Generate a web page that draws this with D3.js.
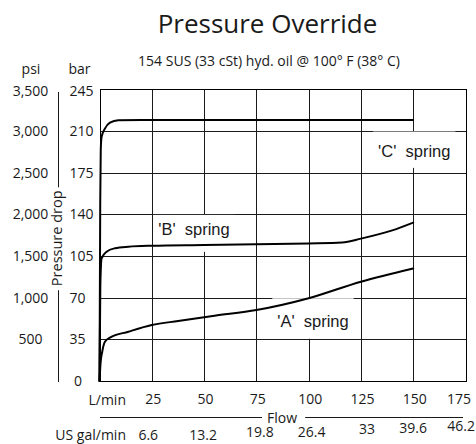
<!DOCTYPE html>
<html>
<head>
<meta charset="utf-8">
<script src="https://cdn.jsdelivr.net/npm/d3@7/dist/d3.min.js"></script>
<style>
  html, body { margin: 0; padding: 0; background: #fff; }
  svg { display: block; }
  text { fill: #1a1a1a; }
</style>
</head>
<body>
<svg id="chart" width="476" height="444"></svg>
<script>
// Pressure override curves: flow (L/min) vs pressure (bar)
const springA = [[0,0],[0.5,15],[1.3,24.6],[2.6,33],[5,36.4],[13.8,41.4],[25,47],[37.6,50.4],[55,54.8],[75,59.6],[100,69.5],[125,83.4],[150,94.5]];
const springB = [[0,0],[0.4,80],[1,103],[3.4,108.6],[7.4,111.5],[13.8,112.8],[25,113.6],[50,114.2],[75,114.8],[100,115.5],[116,116.3],[125,119.6],[140,126.5],[150,133]];
const springC = [[0,0],[0.35,150],[0.6,194],[1,205],[2.6,212],[5,217],[9,219],[20,219.3],[150,219.3]];

const barTicks = [0, 35, 70, 105, 140, 175, 210, 245];
const psiTicks = [500, 1000, 1500, 2000, 2500, 3000, 3500];
const flowTicks = [25, 50, 75, 100, 125, 150, 175];
const gallonLabels = ["6.6", "13.2", "19.8", "26.4", "33", "39.6", "46.2"];
const springNames = ["'A'  spring", "'B'  spring", "'C'  spring"];

const W = 476, H = 444;
const FONT = "'Open Sans', 'Noto Sans', sans-serif";
const LABEL_FONT = "'Liberation Sans', Arial, sans-serif";

const svg = d3.select("#chart");

const x = d3.scaleLinear().domain([0, 175]).range([99.5, 465.5]);
const y = d3.scaleLinear().domain([0, 245]).range([381, 89.3]);
const yPsi = d3.scaleLinear().domain([0, 3500]).range([381, 89.3]);
const crisp = v => Math.round(v) + 0.5;

// title and test conditions
svg.append("text").attr("x", 267.5).attr("y", 33).attr("text-anchor", "middle")
  .style("font-family", FONT).style("font-size", "26px").text("Pressure Override");
svg.append("text").attr("x", 269).attr("y", 66).attr("text-anchor", "middle")
  .style("font-family", FONT).style("font-size", "14px")
  .text("154 SUS (33 cSt) hyd. oil @ 100\u00B0 F (38\u00B0 C)");

// unit headers
svg.append("text").attr("x", 31).attr("y", 74).attr("text-anchor", "middle")
  .style("font-family", FONT).style("font-size", "14px").text("psi");
svg.append("text").attr("x", 68.5).attr("y", 74)
  .style("font-family", FONT).style("font-size", "14px").text("bar");

// grid
const grid = svg.append("g").attr("stroke", "#1a1a1a").attr("stroke-width", 1).attr("fill", "none");
grid.selectAll("line.h").data(barTicks.filter(d => d > 0 && d < 245)).join("line")
  .attr("class", "h")
  .attr("x1", crisp(x(0))).attr("x2", crisp(x(175)))
  .attr("y1", d => crisp(y(d))).attr("y2", d => crisp(y(d)));
grid.selectAll("line.v").data(flowTicks.filter(d => d < 175)).join("line")
  .attr("class", "v")
  .attr("x1", d => crisp(x(d))).attr("x2", d => crisp(x(d)))
  .attr("y1", crisp(y(245))).attr("y2", crisp(y(0)));
grid.append("rect")
  .attr("x", crisp(x(0))).attr("y", crisp(y(245)))
  .attr("width", crisp(x(175)) - crisp(x(0)))
  .attr("height", crisp(y(0)) - crisp(y(245)))
  .attr("stroke", "#000");

// curve labels sit on white patches that interrupt the grid
const labelSpots = [
  { flow: 85, bar: 45.6, top: 69.5, bottom: 35.5 },
  { flow: 28.1, bar: 122.6, top: 139.5, bottom: 108.5 },
  { flow: 133.2, bar: 187.9, top: 209.5, bottom: 179 }
];
const labelG = svg.append("g");
labelSpots.forEach((s, i) => {
  const t = labelG.append("text")
    .attr("x", x(s.flow)).attr("y", y(s.bar))
    .style("font-family", LABEL_FONT).style("font-size", "16.5px")
    .style("white-space", "pre")
    .text(springNames[i]);
  const bb = t.node().getBBox();
  labelG.insert("rect", "text")
    .attr("x", bb.x - 5).attr("width", bb.width + 10)
    .attr("y", y(s.top)).attr("height", y(s.bottom) - y(s.top))
    .attr("fill", "#fff");
});

// curves
const line = d3.line().x(d => x(d[0])).y(d => y(d[1])).curve(d3.curveMonotoneX);
svg.selectAll("path.curve").data([springA, springB, springC]).join("path")
  .attr("class", "curve")
  .attr("d", line)
  .attr("fill", "none").attr("stroke", "#000").attr("stroke-width", 2)
  .attr("stroke-linejoin", "round").attr("stroke-linecap", "round");

// y axis labels
svg.append("g").selectAll("text").data(psiTicks).join("text")
  .attr("x", 30.5).attr("y", d => yPsi(d) + 5 + (d === 3500 ? 1.5 : 0))
  .attr("text-anchor", "middle")
  .style("font-family", FONT).style("font-size", "14px")
  .text(d => d3.format(",")(d));
svg.append("g").selectAll("text").data(barTicks).join("text")
  .attr("x", d => d === 0 ? 74 : 69.5)
  .attr("y", d => y(d) + 5 + (d === 245 ? 1.5 : 0))
  .style("font-family", FONT).style("font-size", "14px")
  .text(d => d);

// vertical axis title with its rule
const yTitle = svg.append("text")
  .attr("transform", `translate(61.5,238.3) rotate(-90)`)
  .attr("text-anchor", "middle")
  .style("font-family", FONT).style("font-size", "14.5px")
  .text("Pressure drop");
{
  const tb = yTitle.node().getBBox();
  const half = tb.width / 2;
  const ruleX = 58.5;
  svg.append("line").attr("x1", ruleX).attr("x2", ruleX)
    .attr("y1", 92).attr("y2", 238.3 - half - 3).attr("stroke", "#1a1a1a");
  svg.append("line").attr("x1", ruleX).attr("x2", ruleX)
    .attr("y1", 238.3 + half + 4).attr("y2", 382).attr("stroke", "#1a1a1a");
}

// x axis labels (L/min row)
svg.append("text").attr("x", 126).attr("y", 405).attr("text-anchor", "end")
  .style("font-family", FONT).style("font-size", "14px").text("L/min");
const fitRight = (sel, maxRight) => sel.each(function () {
  const bb = this.getBBox();
  if (bb.x + bb.width > maxRight) d3.select(this).attr("x", +d3.select(this).attr("x") - (bb.x + bb.width - maxRight));
});
svg.append("g").selectAll("text").data(flowTicks).join("text")
  .attr("x", d => x(d) + 1.5).attr("y", 403.5)
  .attr("text-anchor", "middle")
  .style("font-family", FONT).style("font-size", "14px")
  .text(d => d)
  .call(fitRight, 471);

// flow caption with side rules
const flowT = svg.append("text").attr("x", 282).attr("y", 423).attr("text-anchor", "middle")
  .style("font-family", FONT).style("font-size", "14px").text("Flow");
{
  const fb = flowT.node().getBBox();
  svg.append("line").attr("x1", 100).attr("x2", fb.x - 5).attr("y1", 417.5).attr("y2", 417.5).attr("stroke", "#1a1a1a");
  svg.append("line").attr("x1", fb.x + fb.width + 8).attr("x2", 463).attr("y1", 417.5).attr("y2", 417.5).attr("stroke", "#1a1a1a");
}

// US gal/min row, hand-set offsets per label
const galNudge = [[-3.5, 0], [-1, 0], [3.5, -3], [3, -3], [6, -6], [0, -7.5], [0, -9.5]];
svg.append("text").attr("x", 126).attr("y", 439.5).attr("text-anchor", "end")
  .style("font-family", FONT).style("font-size", "14px").text("US gal/min");
svg.append("g").selectAll("text").data(gallonLabels).join("text")
  .attr("x", (d, i) => x(flowTicks[i]) + galNudge[i][0])
  .attr("y", (d, i) => 440 + galNudge[i][1])
  .attr("text-anchor", "middle")
  .style("font-family", FONT).style("font-size", "14px")
  .text(d => d)
  .call(fitRight, 475);
</script>
</body>
</html>
